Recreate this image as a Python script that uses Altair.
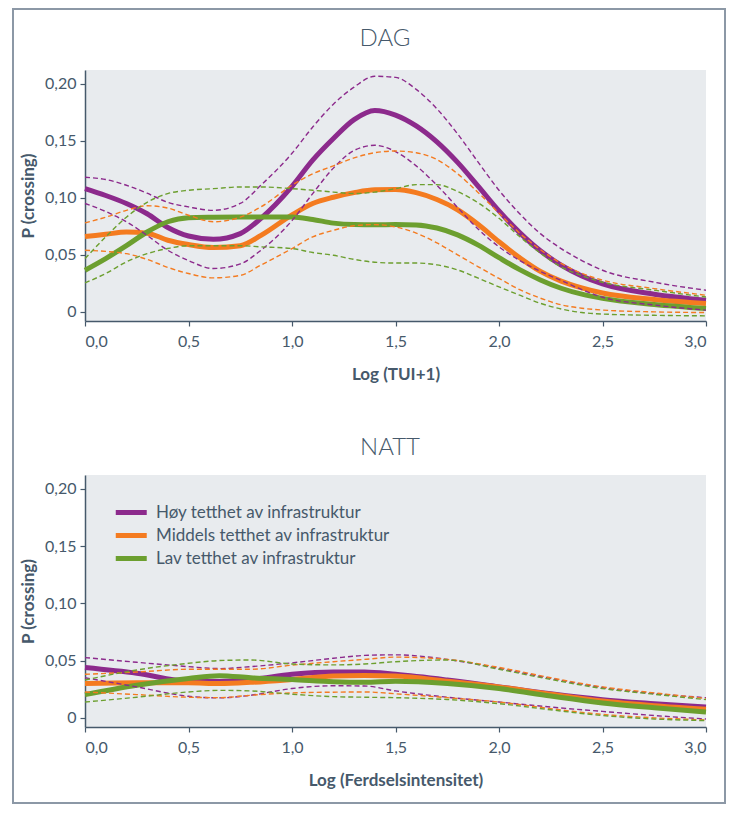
import altair as alt
import pandas as pd

# ---------------- data ----------------
GROUPS = ["Høy tetthet av infrastruktur", "Middels tetthet av infrastruktur", "Lav tetthet av infrastruktur"]
COLORS = ["#8c2a8c", "#f47b20", "#6c9f2f"]
PANEL_TITLES = ["DAG", "NATT"]
X_TITLES = ["Log (TUI+1)", "Log (Ferdselsintensitet)"]

DAG_X = [0, 0.1, 0.2, 0.3, 0.4, 0.5, 0.62, 0.75, 0.85, 1.0, 1.1, 1.2, 1.3, 1.4,
         1.5, 1.6, 1.7, 1.8, 1.9, 2.0, 2.1, 2.2, 2.3, 2.4, 2.5, 2.75, 3.0]

DAG_HOY = [0.108, 0.102, 0.095, 0.086, 0.074, 0.0665, 0.0636, 0.0686, 0.082, 0.110, 0.133, 0.152, 0.1685, 0.1765,
           0.1725, 0.163, 0.149, 0.131, 0.110, 0.0885, 0.0695, 0.0535, 0.041, 0.0315, 0.0245, 0.0155, 0.0102]
DAG_HOY_HI = [0.118, 0.116, 0.111, 0.104, 0.096, 0.092, 0.089, 0.095, 0.111, 0.139, 0.162, 0.182, 0.197, 0.2065,
              0.2055, 0.195, 0.178, 0.156, 0.131, 0.1066, 0.086, 0.0686, 0.0555, 0.045, 0.0365, 0.026, 0.019]
DAG_HOY_LO = [0.095, 0.088, 0.079, 0.067, 0.054, 0.045, 0.038, 0.042, 0.054, 0.080, 0.1037, 0.126, 0.1415, 0.146,
              0.1405, 0.128, 0.111, 0.0915, 0.0725, 0.057, 0.045, 0.0355, 0.0275, 0.0195, 0.0128, 0.006, 0.0015]

DAG_MID = [0.066, 0.068, 0.070, 0.069, 0.0628, 0.059, 0.0564, 0.058, 0.067, 0.085, 0.095, 0.1005, 0.1045, 0.107,
           0.1072, 0.1045, 0.0985, 0.0895, 0.0765, 0.0615, 0.0475, 0.0355, 0.027, 0.021, 0.0165, 0.0108, 0.0073]
DAG_MID_HI = [0.078, 0.083, 0.089, 0.093, 0.091, 0.0847, 0.079, 0.083, 0.092, 0.111, 0.121, 0.128, 0.135, 0.1395,
              0.141, 0.1395, 0.1335, 0.121, 0.1045, 0.0865, 0.069, 0.0545, 0.0425, 0.0338, 0.0278, 0.0204, 0.0146]
DAG_MID_LO = [0.054, 0.053, 0.051, 0.046, 0.039, 0.0336, 0.0298, 0.032, 0.041, 0.0555, 0.0657, 0.0715, 0.0755, 0.0765,
              0.0745, 0.069, 0.0605, 0.050, 0.0395, 0.0293, 0.0195, 0.012, 0.0062, 0.0032, 0.0016, 0.0, -0.0006]

DAG_LAV = [0.0365, 0.0467, 0.058, 0.070, 0.079, 0.0826, 0.083, 0.0832, 0.0832, 0.0832, 0.081, 0.0778, 0.0765, 0.0763,
           0.0765, 0.0762, 0.0735, 0.0675, 0.0585, 0.0475, 0.037, 0.028, 0.0207, 0.0155, 0.0118, 0.0064, 0.0029]
DAG_LAV_HI = [0.0467, 0.0657, 0.083, 0.096, 0.1037, 0.1066, 0.108, 0.1095, 0.1095, 0.108, 0.1066, 0.105, 0.1037, 0.105,
              0.108, 0.1115, 0.1115, 0.1055, 0.0955, 0.082, 0.066, 0.0515, 0.0395, 0.0318, 0.026, 0.019, 0.013]
DAG_LAV_LO = [0.0254, 0.0336, 0.0438, 0.051, 0.0555, 0.058, 0.058, 0.058, 0.057, 0.0555, 0.052, 0.0496, 0.046, 0.0435,
              0.0428, 0.0428, 0.0412, 0.0368, 0.0295, 0.0219, 0.0146, 0.0075, 0.0025, -0.0006, -0.0019, -0.003, -0.0035]

NATT_X = [0, 0.25, 0.5, 0.65, 0.8, 1.0, 1.2, 1.35, 1.5, 1.75, 2.0, 2.25, 2.5, 2.75, 3.0]

NATT_HOY = [0.044, 0.039, 0.032, 0.0318, 0.0335, 0.038, 0.040, 0.040, 0.038, 0.033, 0.027, 0.021, 0.0159, 0.0124, 0.0094]
NATT_HOY_HI = [0.0526, 0.0485, 0.0447, 0.043, 0.0447, 0.048, 0.052, 0.0545, 0.055, 0.051, 0.0432, 0.0344, 0.0265, 0.0212, 0.0176]
NATT_HOY_LO = [0.035, 0.027, 0.0188, 0.0174, 0.0197, 0.0256, 0.028, 0.0278, 0.0235, 0.018, 0.0138, 0.0094, 0.0056, 0.002, -0.001]

NATT_MID = [0.030, 0.0306, 0.0306, 0.030, 0.031, 0.0335, 0.0365, 0.037, 0.0365, 0.032, 0.027, 0.0206, 0.0147, 0.0106, 0.0074]
NATT_MID_HI = [0.038, 0.040, 0.0424, 0.0424, 0.0424, 0.046, 0.049, 0.051, 0.053, 0.051, 0.044, 0.035, 0.027, 0.0218, 0.0168]
NATT_MID_LO = [0.0226, 0.0203, 0.018, 0.0176, 0.0197, 0.0218, 0.0224, 0.0226, 0.021, 0.0176, 0.0138, 0.008, 0.003, 0.0, -0.0018]

NATT_LAV = [0.0203, 0.0285, 0.0344, 0.0368, 0.035, 0.0335, 0.0315, 0.031, 0.032, 0.030, 0.0256, 0.019, 0.013, 0.0088, 0.005]
NATT_LAV_HI = [0.033, 0.0418, 0.0476, 0.050, 0.0505, 0.047, 0.0462, 0.047, 0.049, 0.0505, 0.0424, 0.0335, 0.0256, 0.0206, 0.0159]
NATT_LAV_LO = [0.0138, 0.018, 0.0226, 0.024, 0.0235, 0.0206, 0.0185, 0.018, 0.0176, 0.016, 0.0124, 0.007, 0.002, -0.001, -0.0024]

Y_TICKS = [0, 0.05, 0.10, 0.15, 0.20]
X_TICKS = [0, 0.5, 1.0, 1.5, 2.0, 2.5, 3.0]

# ---------------- styling ----------------
TEXT = "#46596b"
BG = "#e8ebee"
FRAME = "#8c98a6"
FONT = "Lato"


def build(xs, series):
    rows = []
    for group, (main, hi, lo) in zip(GROUPS, series):
        for kind, ys in (("main", main), ("hi", hi), ("lo", lo)):
            for x, y in zip(xs, ys):
                rows.append({"x": x, "p": y, "group": group, "kind": kind,
                             "sid": group + "-" + kind})
    return pd.DataFrame(rows)


dag_df = build(DAG_X, [(DAG_HOY, DAG_HOY_HI, DAG_HOY_LO),
                       (DAG_MID, DAG_MID_HI, DAG_MID_LO),
                       (DAG_LAV, DAG_LAV_HI, DAG_LAV_LO)])
natt_df = build(NATT_X, [(NATT_HOY, NATT_HOY_HI, NATT_HOY_LO),
                         (NATT_MID, NATT_MID_HI, NATT_MID_LO),
                         (NATT_LAV, NATT_LAV_HI, NATT_LAV_LO)])

y_label_expr = "datum.value == 0 ? '0' : replace(format(datum.value, '.2f'), '.', ',')"
x_label_expr = "replace(format(datum.value, '.1f'), '.', ',')"


def panel(df, title, title_x, title_y, xtitle, height, with_legend):
    x_enc = alt.X("x:Q", scale=alt.Scale(domain=[0, 3], nice=False, zero=False),
                  axis=alt.Axis(values=X_TICKS, labelExpr=x_label_expr, title=xtitle,
                                titlePadding=17, labelPadding=7))
    y_enc = alt.Y("p:Q", scale=alt.Scale(domain=[-0.008, 0.212], nice=False, zero=False),
                  axis=alt.Axis(values=Y_TICKS, labelExpr=y_label_expr, title="P (crossing)",
                                titlePadding=7, labelPadding=4))
    color_scale = alt.Scale(domain=GROUPS, range=COLORS)
    if with_legend:
        legend = alt.Legend(title=None, orient="none", legendX=28, legendY=27,
                            direction="vertical", symbolType="M-1,0H3", symbolSize=240,
                            symbolStrokeWidth=5, labelFontSize=17, labelFont=FONT,
                            labelColor=TEXT, labelOffset=22, rowPadding=2, padding=0,
                            labelLimit=400)
    else:
        legend = None
    base = alt.Chart(df)
    main = base.transform_filter("datum.kind == 'main'").mark_line(
        strokeWidth=5, interpolate="monotone"
    ).encode(x=x_enc, y=y_enc,
             color=alt.Color("group:N", scale=color_scale, sort=GROUPS, legend=legend))
    dashed = base.transform_filter("datum.kind != 'main'").mark_line(
        strokeWidth=1.4, strokeDash=[5, 3], interpolate="monotone"
    ).encode(x=x_enc, y=y_enc,
             color=alt.Color("group:N", scale=color_scale, sort=GROUPS, legend=legend),
             detail="sid:N")
    head = alt.Chart(pd.DataFrame({"t": [title]})).mark_text(
        font=FONT, fontSize=24, fontWeight=300, color=TEXT, align="center", baseline="alphabetic"
    ).encode(text="t:N", x=alt.value(title_x), y=alt.value(title_y))
    return [main, dashed, head], height


top_layers, top_h = panel(dag_df, PANEL_TITLES[0], 300, -24, X_TITLES[0], 251, False)
frame = alt.Chart(pd.DataFrame({"f": [0]})).mark_rect(
    fill="transparent", stroke=FRAME, strokeWidth=2
).encode(x=alt.value(-72), x2=alt.value(640), y=alt.value(-61), y2=alt.value(733))
top = alt.layer(*top_layers, frame).properties(width=621, height=top_h)

bot_layers, bot_h = panel(natt_df, PANEL_TITLES[1], 305, -20, X_TITLES[1], 252, True)
bottom = alt.layer(*bot_layers).properties(width=621, height=bot_h)

chart = alt.vconcat(top, bottom, spacing=154, bounds="flush").resolve_scale(
    color="independent"
).resolve_legend(
    color="independent"
).properties(
    padding={"left": 4, "top": 0, "right": 5, "bottom": 5}
).configure_view(
    fill=BG, stroke=None
).configure_axis(
    grid=False, domainColor=TEXT, tickColor=TEXT, domainWidth=1.5, tickWidth=1.2,
    tickSize=5, labelColor=TEXT, titleColor=TEXT, labelFont=FONT, titleFont=FONT,
    labelFontSize=16, titleFontSize=17, titleFontWeight="bold"
)

chart.save("out.html", embed_options={"renderer": "svg", "actions": False})
